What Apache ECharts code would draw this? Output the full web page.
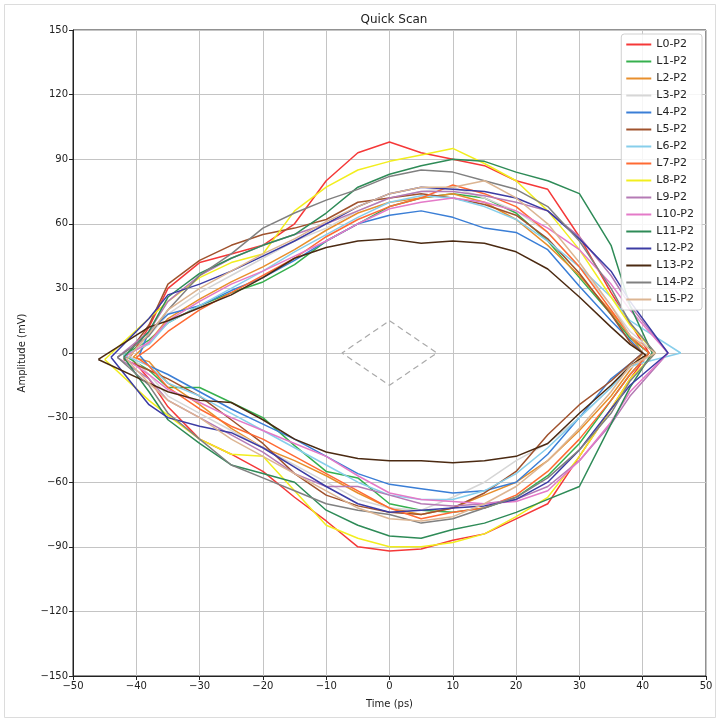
<!DOCTYPE html>
<html>
<head>
<meta charset="utf-8">
<script src="https://cdn.jsdelivr.net/npm/echarts@6/dist/echarts.min.js"></script>
<style>
  html, body { margin: 0; padding: 0; background: #fff; }
  #chart { width: 721px; height: 722px; }
</style>
</head>
<body>
<div id="chart"></div>
<script>
// shared time grid (ps) for upper / lower eye edges
const xs = [-38, -35, -30, -25, -20, -15, -10, -5, 0, 5, 10, 15, 20, 25, 30, 35, 38];

const names = ['L0-P2', 'L1-P2', 'L2-P2', 'L3-P2', 'L4-P2', 'L5-P2', 'L6-P2', 'L7-P2',
  'L8-P2', 'L9-P2', 'L10-P2', 'L11-P2', 'L12-P2', 'L13-P2', 'L14-P2', 'L15-P2'];

const colors = ['#f53838', '#36b04e', '#e88f2c', '#d6d6d6', '#3a7ed6', '#a0522d', '#87ceeb', '#ff6a33',
  '#f2ee1e', '#b57ab5', '#e47ac8', '#2e8b57', '#3c3ca4', '#4b2a12', '#808080', '#dcb592'];

// left crossing [x, y], right crossing [x, y]
const leftApex = [[-41, -2], [-42, -1], [-40.5, -2], [-41, -1], [-39.5, -1], [-42, -3], [-42, -1], [-40, -2],
  [-45, -3], [-43, -2], [-42, -2], [-42, -2], [-44, -2], [-46, -3], [-43, -2], [-41.5, -3]];
const rightApex = [[41, 0], [41, 0], [40, 0], [42, 0], [40, 0], [40, 0], [46, 0], [41, 0],
  [42, 0], [44, 0], [44, 0], [41.5, 0], [44, 0], [40.5, -1], [42, 0], [42, 0]];

const upper0 = [12, 30, 42, 46, 50, 60, 80, 93, 98, 93, 90, 87, 80, 76, 54, 28, 14];
const lower0 = [-12, -25, -40, -47, -55, -67, -78, -90, -92, -91, -87, -84, -77, -70, -48, -26, -12];
const upper1 = [6, 14, 22, 28, 33, 41, 52, 60, 68, 72, 74, 72, 65, 52, 35, 18, 7];
const lower1 = [-8, -16, -16, -23, -30, -43, -55, -58, -70, -73, -74, -72, -67, -57, -42, -22, -10];
const upper2 = [5, 16, 25, 33, 40, 48, 57, 65, 70, 72, 74, 70, 62, 50, 36, 19, 8];
const lower2 = [-4, -14, -24, -35, -44, -50, -57, -65, -72, -75, -72, -66, -60, -50, -36, -20, -8];
const upper3 = [8, 18, 28, 36, 44, 52, 58, 66, 72, 75, 77, 72, 66, 56, 40, 22, 10];
const lower3 = [-10, -20, -28, -36, -44, -52, -60, -68, -72, -73, -67, -60, -50, -42, -30, -16, -7];
const upper4 = [10, 18, 22, 29, 35, 43, 52, 60, 64, 66, 63, 58, 56, 48, 31, 15, 6];
const lower4 = [-6, -10, -18, -26, -33, -40, -48, -56, -61, -63, -65, -64, -60, -47, -30, -12, -5];
const upper5 = [13, 32, 43, 50, 55, 58, 62, 70, 72, 74, 72, 69, 64, 53, 37, 18, 5];
const lower5 = [-8, -12, -20, -31, -42, -56, -66, -71, -74, -75, -72, -65, -55, -38, -24, -13, -5];
const upper6 = [4, 14, 22, 30, 38, 47, 55, 63, 70, 73, 72, 68, 62, 52, 40, 26, 15];
const lower6 = [-6, -14, -20, -28, -36, -44, -52, -60, -66, -68, -68, -64, -56, -44, -30, -16, -6];
const upper7 = [2, 10, 20, 28, 36, 44, 54, 62, 68, 72, 78, 74, 68, 56, 40, 20, 8];
const lower7 = [-6, -16, -26, -34, -40, -48, -56, -64, -72, -77, -74, -72, -66, -55, -40, -22, -10];
const upper8 = [16, 24, 35, 42, 46, 66, 77, 85, 89, 92, 95, 88, 80, 66, 48, 26, 13];
const lower8 = [-22, -29, -40, -47, -48, -64, -80, -86, -90, -90, -88, -84, -76, -67, -48, -26, -12];
const upper9 = [10, 24, 36, 44, 50, 55, 60, 66, 72, 75, 75, 73, 70, 66, 54, 36, 22];
const lower9 = [-12, -22, -30, -38, -46, -56, -62, -62, -66, -70, -71, -70, -68, -62, -50, -33, -20];
const upper10 = [5, 15, 24, 32, 38, 45, 52, 60, 67, 70, 72, 70, 66, 58, 48, 32, 20];
const lower10 = [-10, -17, -23, -30, -36, -42, -48, -57, -65, -68, -69, -70, -69, -64, -50, -32, -18];
const upper11 = [10, 26, 37, 44, 50, 55, 65, 77, 83, 87, 90, 89, 84, 80, 74, 50, 22];
const lower11 = [-18, -31, -42, -52, -56, -60, -73, -80, -85, -86, -82, -79, -74, -68, -62, -33, -16];
const upper12 = [16, 27, 32, 38, 45, 52, 60, 68, 74, 77, 76, 75, 72, 66, 53, 38, 24];
const lower12 = [-24, -30, -34, -37, -44, -53, -62, -70, -74, -73, -72, -71, -68, -60, -45, -26, -15];
const upper13 = [12, 15, 21, 27, 35, 44, 49, 52, 53, 51, 52, 51, 47, 39, 26, 12, 4];
const lower13 = [-14, -18, -22, -23, -31, -40, -46, -49, -50, -50, -51, -50, -48, -42, -28, -15, -6];
const upper14 = [8, 20, 36, 46, 58, 65, 71, 76, 82, 85, 84, 80, 76, 68, 52, 30, 14];
const lower14 = [-15, -28, -40, -52, -58, -64, -70, -73, -75, -79, -77, -72, -67, -58, -45, -28, -13];
const upper15 = [9, 20, 30, 38, 46, 53, 61, 68, 74, 77, 77, 80, 72, 60, 42, 22, 8];
const lower15 = [-14, -22, -30, -40, -48, -56, -64, -72, -77, -78, -76, -70, -62, -50, -35, -18, -6];

const uppers = [upper0, upper1, upper2, upper3, upper4, upper5, upper6, upper7,
  upper8, upper9, upper10, upper11, upper12, upper13, upper14, upper15];
const lowers = [lower0, lower1, lower2, lower3, lower4, lower5, lower6, lower7,
  lower8, lower9, lower10, lower11, lower12, lower13, lower14, lower15];

// mask diamond in the middle
const maskX = [0, 7.5, 0, -7.5, 0];
const maskY = [15, 0, -15, 0, 15];

function loop(i) {
  const pts = [leftApex[i]];
  xs.forEach((x, j) => pts.push([x, uppers[i][j]]));
  pts.push(rightApex[i]);
  for (let j = xs.length - 1; j >= 0; j--) pts.push([xs[j], lowers[i][j]]);
  pts.push(leftApex[i]);
  return pts;
}

const chart = echarts.init(document.getElementById('chart'));
const font = 'DejaVu Sans';
const minus = v => String(v).replace('-', '\u2212');

const series = names.map((n, i) => ({
  name: n,
  type: 'line',
  data: loop(i),
  showSymbol: false,
  symbol: 'none',
  lineStyle: { color: colors[i], width: 1.5 },
  itemStyle: { color: colors[i] },
  z: 3
}));

series.push({
  name: 'mask',
  type: 'line',
  data: maskX.map((x, k) => [x, maskY[k]]),
  symbol: 'none',
  lineStyle: { color: '#aaaaaa', width: 1.2, type: [6, 4] },
  z: 2,
  silent: true
});

chart.setOption({
  animation: false,
  backgroundColor: '#fff',
  title: {
    text: 'Quick Scan',
    left: 389,
    top: 9,
    textAlign: 'center',
    textStyle: { fontFamily: font, fontSize: 12, fontWeight: 'normal', color: '#222' }
  },
  graphic: [{
    type: 'rect',
    shape: { x: 4.5, y: 4.5, width: 711, height: 713 },
    style: { fill: 'none', stroke: '#dcdcdc', lineWidth: 1 },
    z: -1
  }],
  legend: {
    data: names,
    orient: 'vertical',
    right: 19,
    top: 34,
    itemGap: 4,
    itemWidth: 25,
    itemHeight: 2,
    icon: 'rect',
    padding: [4, 8, 4, 5],
    borderColor: '#d0d0d0',
    borderWidth: 1,
    borderRadius: 3,
    backgroundColor: 'rgba(255,255,255,0.85)',
    textStyle: { fontFamily: font, fontSize: 11, color: '#222', lineHeight: 13 }
  },
  grid: {
    left: 73, right: 15, top: 30, bottom: 46,
    show: true, borderColor: '#222', borderWidth: 1
  },
  xAxis: {
    type: 'value',
    min: -50, max: 50, interval: 10,
    name: 'Time (ps)',
    nameLocation: 'middle',
    nameGap: 23,
    nameTextStyle: { fontFamily: font, fontSize: 10, color: '#222' },
    axisLine: { show: true, onZero: false, lineStyle: { color: '#222' } },
    axisTick: { show: true, length: 4, lineStyle: { color: '#222' } },
    axisLabel: { fontFamily: font, fontSize: 10, color: '#222', margin: 5, formatter: minus },
    splitLine: { show: true, lineStyle: { color: '#c4c4c4', width: 1 } }
  },
  yAxis: {
    type: 'value',
    min: -150, max: 150, interval: 30,
    name: 'Amplitude (mV)',
    nameLocation: 'middle',
    nameGap: 46,
    nameTextStyle: { fontFamily: font, fontSize: 10, color: '#222' },
    axisLine: { show: true, onZero: false, lineStyle: { color: '#222' } },
    axisTick: { show: true, length: 4, lineStyle: { color: '#222' } },
    axisLabel: { fontFamily: font, fontSize: 10, color: '#222', margin: 5, formatter: minus },
    splitLine: { show: true, lineStyle: { color: '#c4c4c4', width: 1 } }
  },
  series: series
});
</script>
</body>
</html>
